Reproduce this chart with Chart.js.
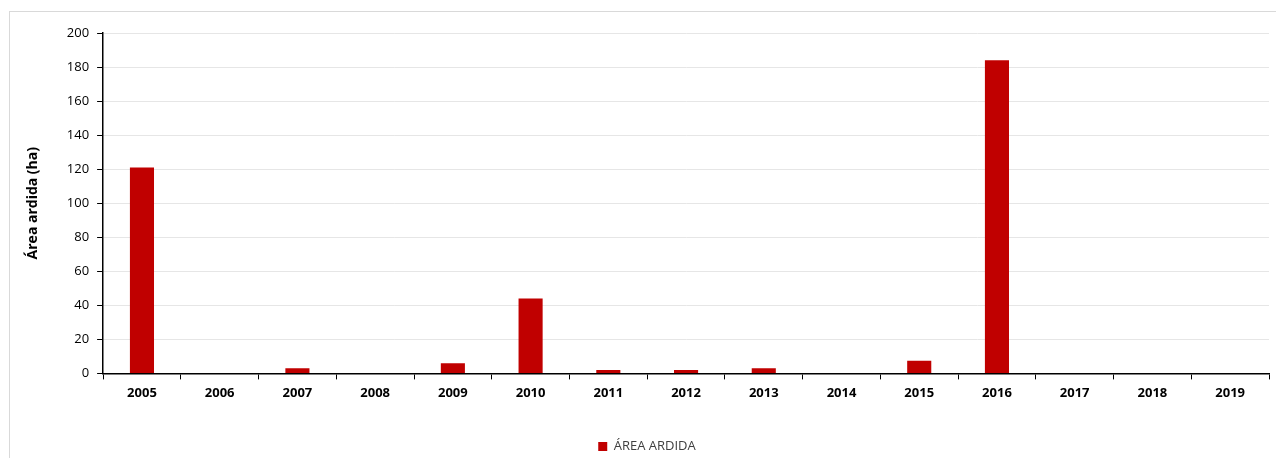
<!DOCTYPE html>
<html>
<head>
<meta charset="utf-8">
<script src="https://cdn.jsdelivr.net/npm/chart.js@4/dist/chart.umd.min.js"></script>
<style>
  html, body { margin: 0; padding: 0; background: #fff; }
  #wrap { position: relative; width: 1276px; height: 458px; overflow: hidden; }
  #frame { position: absolute; left: 9px; top: 11px; width: 1280px; height: 460px; border: 1px solid #d9d9d9; box-sizing: border-box; }
  #box { position: absolute; left: 0; top: 0; width: 1276px; height: 458px; }
</style>
</head>
<body>
<div id="wrap">
  <div id="frame"></div>
  <div id="box"><canvas id="myChart"></canvas></div>
</div>
<script>
const years = ['2005', '2006', '2007', '2008', '2009', '2010', '2011', '2012', '2013', '2014', '2015', '2016', '2017', '2018', '2019'];
const areaArdida = [121, 0, 3, 0, 6, 44, 2, 2, 3, 0, 7.5, 184, 0, 0, 0];
const yTicks = [0, 20, 40, 60, 80, 100, 120, 140, 160, 180, 200];

const ctx = document.getElementById('myChart');
new Chart(ctx, {
  type: 'bar',
  data: {
    labels: years,
    datasets: [{
      label: 'ÁREA ARDIDA',
      data: areaArdida,
      backgroundColor: '#c00000',
      categoryPercentage: 1,
      barPercentage: 0.31
    }]
  },
  options: {
    responsive: true,
    maintainAspectRatio: false,
    animation: false,
    layout: { padding: { left: 25, right: 7, top: 33, bottom: -5 } },
    plugins: {
      tooltip: { enabled: false },
      legend: {
        position: 'bottom',
        labels: {
          boxWidth: 9,
          boxHeight: 9,
          color: '#404040',
          padding: 2,
          font: { family: 'Open Sans', size: 13 }
        }
      }
    },
    scales: {
      x: {
        offset: true,
        afterFit: axis => { axis.height += 31; },
        grid: {
          offset: true,
          drawOnChartArea: false,
          color: '#000',
          tickLength: 6
        },
        border: { color: '#000', width: 1.5 },
        ticks: {
          color: '#000',
          padding: 6,
          font: { family: 'Open Sans', size: 13, weight: 'bold' }
        }
      },
      y: {
        min: 0,
        max: 200,
        afterBuildTicks: axis => { axis.ticks = yTicks.map(v => ({ value: v })); },
        grid: { color: '#e6e6e6', tickColor: '#000', tickLength: 6 },
        border: { color: '#000', width: 1.5 },
        ticks: {
          color: '#000',
          padding: 8,
          font: { family: 'Open Sans', size: 13 }
        },
        title: {
          display: true,
          text: 'Área ardida (ha)',
          color: '#000',
          padding: { top: 0, bottom: 17 },
          font: { family: 'Open Sans', size: 14, weight: 'bold' }
        }
      }
    }
  }
});
</script>
</body>
</html>
